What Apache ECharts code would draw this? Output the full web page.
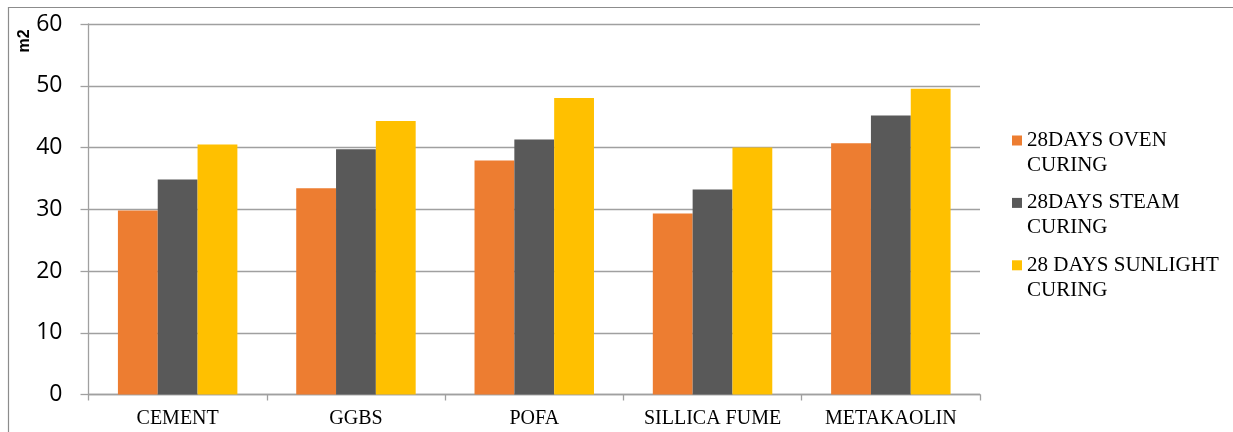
<!DOCTYPE html>
<html>
<head>
<meta charset="utf-8">
<title>Curing comparison</title>
<script src="https://cdn.jsdelivr.net/npm/echarts@6/dist/echarts.min.js"></script>
<style>
  html, body { margin: 0; padding: 0; background: #ffffff; }
  #chart { width: 1233px; height: 432px; }
</style>
</head>
<body>
<div id="chart"></div>
<script>
// Materials along the x axis
const categories = ['CEMENT', 'GGBS', 'POFA', 'SILLICA FUME', 'METAKAOLIN'];

// Series names (two-line legend entries)
const seriesNames = [
  '28DAYS OVEN\nCURING',
  '28DAYS STEAM\nCURING',
  '28 DAYS SUNLIGHT\nCURING'
];

// Values per material, one array per curing method
const ovenCuring = [29.8, 33.4, 37.9, 29.3, 40.7];
const steamCuring = [34.8, 39.7, 41.3, 33.2, 45.2];
const sunlightCuring = [40.5, 44.3, 48.0, 40.0, 49.5];

// Value axis range and labels
const yTicks = [0, 10, 20, 30, 40, 50, 60];
const yUnit = 'm2';

const colors = ['#ED7D31', '#595959', '#FFC000'];
const gridColor = '#a0a0a0';

const chart = echarts.init(document.getElementById('chart'), null, { renderer: 'canvas' });

// Legend marker: a 10x10 square sitting on the first text line, inside a 10x50 box
const legendIcon = 'path://M0,0M0,7.5L10,7.5L10,17.5L0,17.5Z M10,50';

const seriesData = [ovenCuring, steamCuring, sunlightCuring];

chart.setOption({
  animation: false,
  backgroundColor: '#ffffff',
  color: colors,
  grid: {
    left: 88.5,
    right: 253,
    top: 24,
    bottom: 37.5,
    containLabel: false
  },
  legend: {
    orient: 'vertical',
    left: 1012,
    top: 128,
    padding: 0,
    itemWidth: 10,
    itemHeight: 50,
    itemGap: 12.4,
    icon: legendIcon,
    selectedMode: false,
    textStyle: {
      fontFamily: 'Liberation Serif',
      fontSize: 21,
      lineHeight: 25,
      color: '#000000'
    },
    data: seriesNames
  },
  xAxis: {
    type: 'category',
    data: categories,
    axisLine: { show: true, lineStyle: { color: gridColor, width: 1.3 } },
    axisTick: { show: true, length: 6, alignWithLabel: false, lineStyle: { color: gridColor, width: 1.3 } },
    axisLabel: {
      interval: 0,
      margin: 14,
      fontFamily: 'Liberation Serif',
      fontSize: 20,
      lineHeight: 20,
      color: '#000000'
    },
    splitLine: { show: false }
  },
  yAxis: {
    type: 'value',
    min: yTicks[0],
    max: yTicks[yTicks.length - 1],
    interval: yTicks[1] - yTicks[0],
    axisLine: { show: true, lineStyle: { color: gridColor, width: 1.3 } },
    axisTick: { show: true, length: 8, lineStyle: { color: gridColor, width: 1.3 } },
    axisLabel: {
      margin: 26,
      fontFamily: 'Open Sans',
      fontSize: 23,
      color: '#000000'
    },
    splitLine: { show: true, lineStyle: { color: gridColor, width: 1.3 } }
  },
  graphic: [
    {
      // frame along the top and left edges
      type: 'polyline',
      silent: true,
      shape: { points: [[8.5, 432], [8.5, 7.5], [1233, 7.5]] },
      style: { stroke: '#8c8c8c', lineWidth: 1.2, fill: null }
    },
    {
      type: 'text',
      silent: true,
      x: 25,
      y: 41,
      rotation: Math.PI / 2,
      style: {
        text: yUnit,
        fontFamily: 'Liberation Sans',
        fontWeight: 'bold',
        fontSize: 16,
        fill: '#000000',
        align: 'center',
        verticalAlign: 'middle'
      }
    }
  ],
  series: seriesNames.map((name, i) => ({
    name: name,
    type: 'bar',
    data: seriesData[i],
    barGap: '0%',
    barCategoryGap: '33%',
    itemStyle: { color: colors[i] },
    emphasis: { disabled: true }
  }))
});
</script>
</body>
</html>
